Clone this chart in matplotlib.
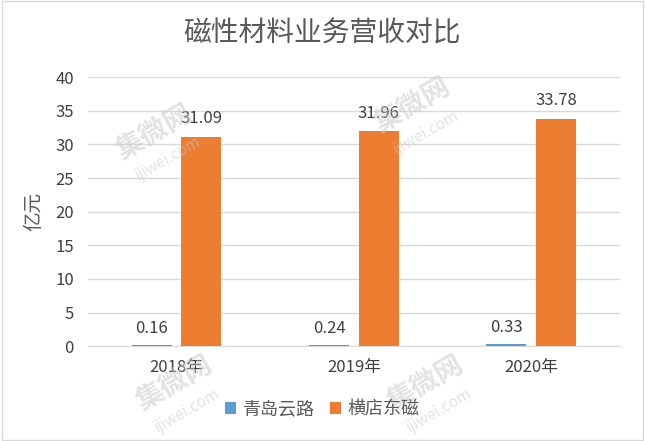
import numpy as np
import matplotlib
matplotlib.use("Agg")
import matplotlib.pyplot as plt

plt.rcParams['font.family'] = ['Noto Sans CJK SC', 'DejaVu Sans']

# DATOS
years = ["2018年", "2019年", "2020年"]
qingdao = [0.16, 0.24, 0.33]
hengdian = [31.09, 31.96, 33.78]
series_names = ["青岛云路", "横店东磁"]

fig = plt.figure(figsize=(6.45, 4.41), dpi=100)
ax = fig.add_axes([0.136, 0.215, 0.825, 0.61])

x = np.arange(len(years))
w = 0.225
off = 0.14
b1 = ax.bar(x - off, qingdao, w, color="#5B9BD5", label=series_names[0], zorder=3)
b2 = ax.bar(x + off, hengdian, w, color="#ED7D31", label=series_names[1], zorder=3)

for rect, v in zip(b1, qingdao):
    ax.text(rect.get_x() + rect.get_width() / 2, v + 2.4, f"{v:.2f}",
            ha="center", va="center", fontsize=12, color="#404040", zorder=4)
for rect, v in zip(b2, hengdian):
    ax.text(rect.get_x() + rect.get_width() / 2, v + 2.7, f"{v:.2f}",
            ha="center", va="center", fontsize=12, color="#404040", zorder=4)

ax.set_xlim(-0.5, 2.5)
ax.set_ylim(0, 40)
ax.set_yticks(np.arange(0, 41, 5))
ax.set_xticks(x)
ax.set_xticklabels(years)
ax.tick_params(axis="both", length=0, labelsize=12, colors="#404040")
ax.tick_params(axis="x", pad=9)
ax.tick_params(axis="y", pad=10)
ax.yaxis.grid(True, color="#D9D9D9", linewidth=1, zorder=0)
for s in ["top", "right", "left"]:
    ax.spines[s].set_visible(False)
ax.spines["bottom"].set_color("#D9D9D9")
ax.set_ylabel("亿元", fontsize=14, color="#595959", labelpad=8)

fig.text(0.5, 0.925, "磁性材料业务营收对比", ha="center", va="center",
         fontsize=20, color="#595959")

fig.legend(handles=[b1, b2], loc="center", bbox_to_anchor=(0.5, 0.072), ncol=2,
           frameon=False, fontsize=13, handlelength=0.6, handleheight=0.6,
           columnspacing=0.8, handletextpad=0.4, labelcolor="#595959")

# marca de agua
for (wx, wy) in [(0.24, 0.7), (0.64, 0.76), (0.27, 0.13), (0.66, 0.13)]:
    fig.text(wx, wy, "集微网", rotation=30, fontsize=20, color="#C8C8C8",
             alpha=0.5, ha="center", va="center", fontweight="bold")
    fig.text(wx + 0.02, wy - 0.06, "ijiwei.com", rotation=30, fontsize=11,
             color="#C8C8C8", alpha=0.5, ha="center", va="center")

# borde
fig.patches.append(plt.Rectangle((0.003, 0.003), 0.994, 0.994, transform=fig.transFigure,
                                 fill=False, edgecolor="#D9D9D9", linewidth=1))

fig.savefig("out.png", dpi=100)
